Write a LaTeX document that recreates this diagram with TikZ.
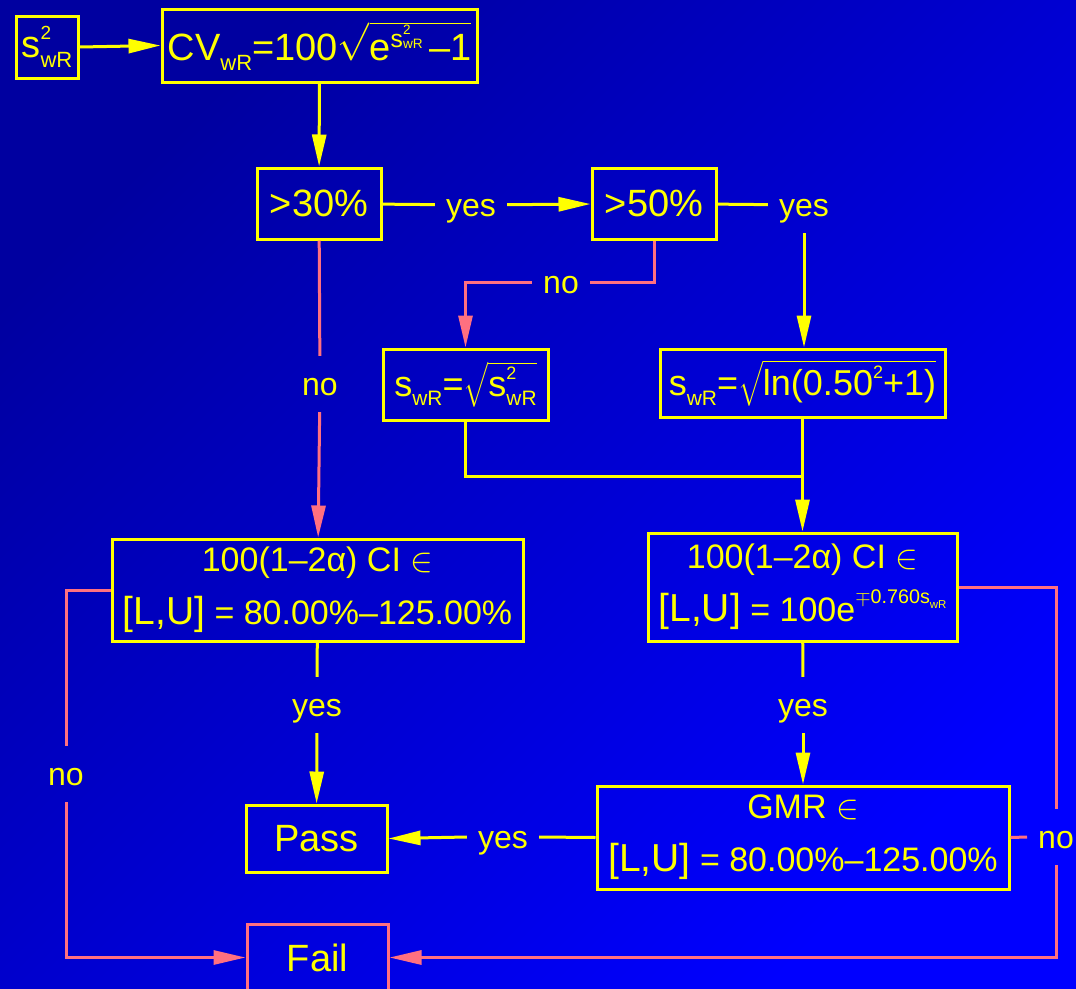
\RequirePackage{fix-cm}
\documentclass[tikz,border=0pt]{standalone}
\usepackage{amsmath}
\usepackage{fontspec}
\setmainfont{Liberation Sans}
\usetikzlibrary{arrows.meta,calc}
\definecolor{ylw}{RGB}{255,255,0}
\definecolor{pnk}{RGB}{255,112,128}
\definecolor{bgA}{RGB}{0,0,160}
\definecolor{bgB}{RGB}{0,0,255}
\newcommand\sbx[1]{\raisebox{-0.26em}{\scalebox{0.58}{#1}}}
\newcommand\spx[1]{\raisebox{0.47em}{\scalebox{0.5}{#1}}}
\newcommand\ssx[2]{\rlap{\spx{#1}}\sbx{#2}}
\newcommand\expo{\raisebox{0.33em}{\scalebox{0.65}{s\rlap{\raisebox{0.52em}{\scalebox{0.55}{2}}}\raisebox{-0.05em}{\scalebox{0.55}{wR}}}}}
\begin{document}
\begin{tikzpicture}[x=1pt,y=1pt,
 box/.style={draw=ylw, line width=3pt, text=ylw, inner sep=0pt, align=center, font=\fontsize{38}{44}\selectfont},
 bigbox/.style={box, font=\fontsize{34}{53}\selectfont},
 lbl/.style={text=ylw, font=\fontsize{32}{36}\selectfont, inner xsep=11pt, inner ysep=13pt, text height=26pt, text depth=4pt},
 yl/.style={draw=ylw, line width=3pt},
 pk/.style={draw=pnk, line width=3pt},
 tip/.style={-{Triangle[length=32pt,width=14pt]}}
]
\shade[top color=bgA, bottom color=bgB, shading angle=45] (0,0) rectangle (1076,-988);
\useasboundingbox (0,0) rectangle (1076,-988);

% boxes
\node[box, minimum width=62pt, minimum height=62pt] (s2) at (47,-47) {s\ssx{2}{wR}};
\node[box, minimum width=315pt, minimum height=73pt] (cv) at (319.5,-45.5) {CV\sbx{wR}=100$\sqrt{\hbox{e\expo\,–1}}$};
\node[box, minimum width=124pt, minimum height=71pt] (b30) at (319,-203.5) {>30\%};
\node[box, minimum width=124pt, minimum height=71pt] (b50) at (654,-203.5) {>50\%};
\node[box, font=\fontsize{36}{40}\selectfont, minimum width=165pt, minimum height=71pt] (sl) at (465.5,-384.5) {s\sbx{wR}=$\sqrt{\hbox{s\ssx{2}{wR}}}$};
\node[box, font=\fontsize{36}{40}\selectfont, minimum width=285pt, minimum height=68pt] (sr) at (802.5,-383) {s\sbx{wR}=$\sqrt{\hbox{ln(0.50\spx{2}+1)}}$};
\node[bigbox, minimum width=411pt, minimum height=102pt] (cil) at (317.5,-590) {100(1–2α) CI $\in$\\{\fontsize{39}{53}\selectfont[L,U]} = 80.00\%–125.00\%};
\node[bigbox, minimum width=309pt, minimum height=108pt] (cir) at (802.5,-587) {100(1–2α) CI $\in$\\{\fontsize{39}{53}\selectfont[L,U]} = 100e\raisebox{0.55em}{\scalebox{0.58}{$\mp$0.760s\sbx{wR}}}};
\node[bigbox, minimum width=412pt, minimum height=103pt] (gmr) at (803,-837.5) {GMR $\in$\\{\fontsize{39}{53}\selectfont[L,U]} = 80.00\%–125.00\%};
\node[box, minimum width=141pt, minimum height=67pt] (pass) at (316.5,-838.5) {Pass};
\node[box, draw=pnk, minimum width=141pt, minimum height=67pt] (fail) at (317.5,-957.5) {Fail};

% labels
\node[lbl] (y1) at (471,-205) {yes};
\node[lbl] (y2) at (804,-205) {yes};
\node[lbl] (n2) at (561,-282) {no};
\node[lbl] (n1) at (320,-384) {no};
\node[lbl] (y3) at (317,-705) {yes};
\node[lbl] (n3) at (66,-774) {no};
\node[lbl] (y4) at (803,-705) {yes};
\node[lbl] (y5) at (503,-837) {yes};
\node[lbl] (n4) at (1056,-837) {no};

% connectors
\draw[yl,tip] (s2.east) -- (cv.west);
\draw[yl,tip] (cv) -- (b30);
\draw[yl] (b30) -- (y1);
\draw[yl,tip] (y1) -- (b50);
\draw[yl] (b50) -- (y2);
\draw[yl,tip] (y2.south) -- (y2.south |- sr.north);
\draw[pk] (b50.south) |- (n2.east);
\draw[pk,tip] (n2.west) -| (sl.north);
\draw[pk] (b30) -- (n1);
\draw[pk,tip] (n1) -- (cil);
\coordinate (j) at (sr.south |- 0,-476);
\draw[yl] (sl.south) |- (j);
\draw[yl,tip] (sr.south) -- (cir.north);
\draw[pk] (cil.west) -| (n3.north);
\draw[pk,tip] (n3.south) |- (fail.west);
\draw[yl] (cil) -- (y3);
\draw[yl,tip] (y3) -- (pass);
\draw[yl] (cir) -- (y4);
\draw[yl,tip] (y4) -- (gmr);
\draw[yl] (gmr.west) -- (y5.east);
\draw[yl,tip] (y5.west) -- (pass.east);
\draw[pk] (cir.east) -| (n4.north);
\draw[pk] (gmr.east) -- (n4.west);
\draw[pk,tip] (n4.south) |- (fail.east);
\end{tikzpicture}
\end{document}
